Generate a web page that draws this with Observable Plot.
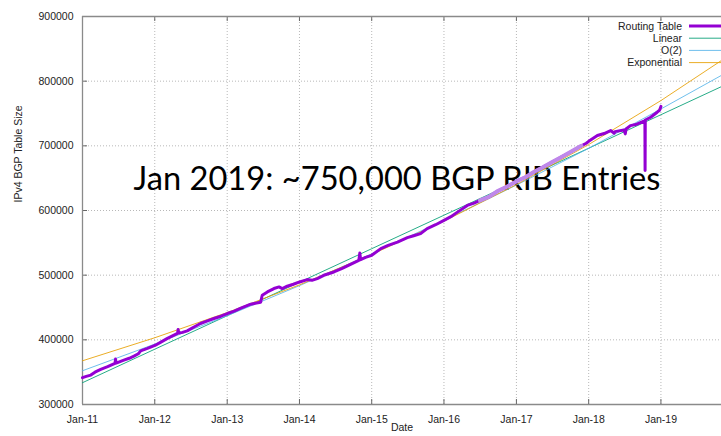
<!DOCTYPE html>
<html><head><meta charset="utf-8">
<script src="https://cdn.jsdelivr.net/npm/d3@7"></script>
<script src="https://cdn.jsdelivr.net/npm/@observablehq/plot@0.6"></script>
<style>
html,body{margin:0;padding:0;background:#fff;}
#chart{position:relative;width:721px;height:436px;overflow:hidden;}
</style></head><body><div id="chart"></div>
<script>
// ---- data ----
const routingDates = ["2011-01-01","2011-01-20","2011-02-12","2011-03-05","2011-04-03","2011-05-08","2011-06-14","2011-06-17","2011-06-20","2011-07-29","2011-08-25","2011-09-18","2011-10-10","2011-10-22","2011-11-25",
"2012-01-02","2012-02-01","2012-03-05","2012-04-25","2012-04-28","2012-05-02","2012-05-20","2012-06-13","2012-07-15","2012-08-19","2012-09-20","2012-10-26","2012-11-30",
"2013-01-02","2013-02-05","2013-03-11","2013-04-30","2013-06-19","2013-06-27","2013-07-23","2013-08-25","2013-09-20","2013-10-06","2013-10-31","2013-12-01",
"2014-01-02","2014-02-10","2014-03-05","2014-04-01","2014-05-04","2014-06-24","2014-08-05","2014-09-16","2014-10-28","2014-11-02","2014-11-06","2014-12-01",
"2015-01-01","2015-02-16","2015-03-25","2015-05-11","2015-06-30","2015-08-01","2015-09-05","2015-10-08","2015-11-20",
"2016-01-01","2016-02-05","2016-03-09","2016-04-28","2016-06-01","2016-07-01","2016-08-15","2016-10-01","2016-11-15",
"2017-01-01","2017-02-15","2017-04-01","2017-05-15","2017-07-01","2017-08-15","2017-10-01","2017-11-25","2017-12-20",
"2018-01-01","2018-02-14","2018-03-20","2018-04-22","2018-05-10","2018-05-14","2018-06-28","2018-07-05","2018-07-09","2018-07-31","2018-09-01","2018-10-07","2018-10-12","2018-10-13","2018-10-14","2018-11-10","2018-12-13","2018-12-25","2019-01-01"];
const routingValues = [341500,343500,345500,350000,354300,358500,363600,370200,364000,368700,371500,374800,378500,383000,386700,
391300,396500,402200,409900,416000,410500,411500,413900,419500,425300,429000,433000,436500,
440700,444500,449000,455100,458200,469000,474100,479300,481800,479300,482900,486000,
489500,493200,492000,494700,499800,504900,510500,516800,523000,534300,524000,527500,
530700,541000,546000,551200,558000,561000,564200,572000,578000,
584700,590500,597500,607800,611500,615600,621000,630500,637000,
645000,651500,660000,667000,675000,682500,690500,700000,704000,
707000,715900,719000,723600,719500,722000,724600,718500,726000,731300,733500,738000,738500,662000,740000,744200,752000,755000,761000];
const fadedRange = ["2016-07-01","2017-11-25"];

const fitDates = ["2011-01-01","2012-01-01","2013-01-01","2014-01-01","2015-01-01","2016-01-01","2017-01-01","2018-01-01","2019-01-01","2019-11-03"];
const linearValues = [333700,385500,437300,489100,540900,592700,644500,696300,748100,791600];
const quadValues   = [352200,393400,437300,483800,533000,584800,639300,696100,757000,809000];
const expValues    = [367600,403200,442200,485000,532000,583500,640000,702000,770000,832000];

const seriesNames  = ["Routing Table","Linear","O(2)","Exponential"];
const seriesColors = ["#9400d3","#009e73","#56b4e9","#e69f00"];
const fadedColor = "#bf88ea";

const yTicks = [300000,400000,500000,600000,700000,800000,900000];
const xTickDates = ["2011-01-01","2012-01-01","2013-01-01","2014-01-01","2015-01-01","2016-01-01","2017-01-01","2018-01-01","2019-01-01"];
const xDomain = ["2011-01-01","2019-11-03"];
const annotation = "Jan 2019: ~750,000 BGP RIB Entries";
const yLabel = "IPv4 BGP Table Size";
const xLabel = "Date";

// ---- build ----
const parse = d3.utcParse("%Y-%m-%d");
const routing = routingDates.map((d,i)=>({date: parse(d), value: routingValues[i]}));
const f0 = parse(fadedRange[0]), f1 = parse(fadedRange[1]);
const faded = routing.filter(d => d.date >= f0 && d.date <= f1);
const fits = [linearValues, quadValues, expValues].map(vals => fitDates.map((d,i)=>({date: parse(d), value: vals[i]})));
const xTicks = xTickDates.map(parse);

const W = 721, H = 436, mL = 82, mR = 0, mT = 16, mB = 32;
const plotW = W - mL - mR, plotH = H - mT - mB;
const axisColor = "#8a8a8a", gridColor = "#b8b8b8";

const chart = Plot.plot({
  width: W, height: H,
  marginLeft: mL, marginRight: mR, marginTop: mT, marginBottom: mB,
  style: {fontFamily: "'Liberation Sans', Arial, sans-serif", fontSize: "10.5px", color: "#222", background: "#fff", overflow: "hidden"},
  x: {type: "utc", domain: xDomain.map(parse), ticks: xTicks, tickFormat: d3.utcFormat("%b-%y"), tickSize: 0, tickPadding: 11, label: null},
  y: {domain: [300000, 900000], ticks: yTicks, tickFormat: d => String(d), tickSize: 0, tickPadding: 9, label: null},
  marks: [
    Plot.gridX(xTicks, {stroke: gridColor, strokeOpacity: 1, strokeDasharray: "1,2"}),
    Plot.gridY(yTicks, {stroke: gridColor, strokeOpacity: 1, strokeDasharray: "1,2"}),
    Plot.tickX(xTicks, {x: d => d, insetTop: plotH - 5, stroke: "#666"}),
    Plot.tickX(xTicks, {x: d => d, insetBottom: plotH - 5, stroke: "#666"}),
    Plot.tickY(yTicks, {y: d => d, insetRight: plotW - 5, stroke: "#666"}),
    Plot.ruleY([yTicks[0], yTicks[yTicks.length-1]], {stroke: axisColor, strokeWidth: 1.3}),
    Plot.ruleX([parse(xDomain[0])], {stroke: axisColor, strokeWidth: 1.3}),
    Plot.text([annotation], {frameAnchor: "top-left", dx: 51, dy: 150, textAnchor: "start", fontSize: 33.5, fontFamily: "Lato, 'Open Sans', sans-serif", fill: "#000"}),
    Plot.line(fits[0], {x: "date", y: "value", stroke: seriesColors[1], strokeWidth: 1, strokeOpacity: 0.85}),
    Plot.line(fits[1], {x: "date", y: "value", stroke: seriesColors[2], strokeWidth: 1, strokeOpacity: 0.85}),
    Plot.line(fits[2], {x: "date", y: "value", stroke: seriesColors[3], strokeWidth: 1, strokeOpacity: 0.85}),
    Plot.line(routing, {x: "date", y: "value", stroke: seriesColors[0], strokeWidth: 3, strokeLinejoin: "round"}),
    Plot.line(faded, {x: "date", y: "value", stroke: fadedColor, strokeWidth: 4, strokeLinejoin: "round"}),
    Plot.text([yLabel], {frameAnchor: "left", rotate: -90, dx: -64, dy: -8, fontSize: 10.5, fill: "#222"}),
    Plot.text([xLabel], {frameAnchor: "bottom", dy: 26, fontSize: 10.5, fill: "#222"})
  ]
});
document.getElementById("chart").appendChild(chart);

// annotation width like the reference text box
const svg = d3.select(chart);
svg.selectAll("text").filter(function(){ return this.textContent === annotation; })
  .attr("textLength", 527).attr("lengthAdjust", "spacingAndGlyphs");

// legend (top right, gnuplot style)
const lg = svg.append("g").attr("font-family", "'Liberation Sans', Arial, sans-serif").attr("font-size", 10.5);
seriesNames.forEach((name, i) => {
  const yy = 26 + i * 12.2;
  lg.append("text").attr("x", 682).attr("y", yy).attr("dy", "0.35em").attr("text-anchor", "end").attr("fill", "#222").text(name);
  lg.append("line").attr("x1", 689).attr("x2", 721).attr("y1", yy).attr("y2", yy)
    .attr("stroke", seriesColors[i]).attr("stroke-width", i === 0 ? 3 : 1).attr("stroke-opacity", i === 0 ? 1 : 0.85);
});
</script></body></html>
